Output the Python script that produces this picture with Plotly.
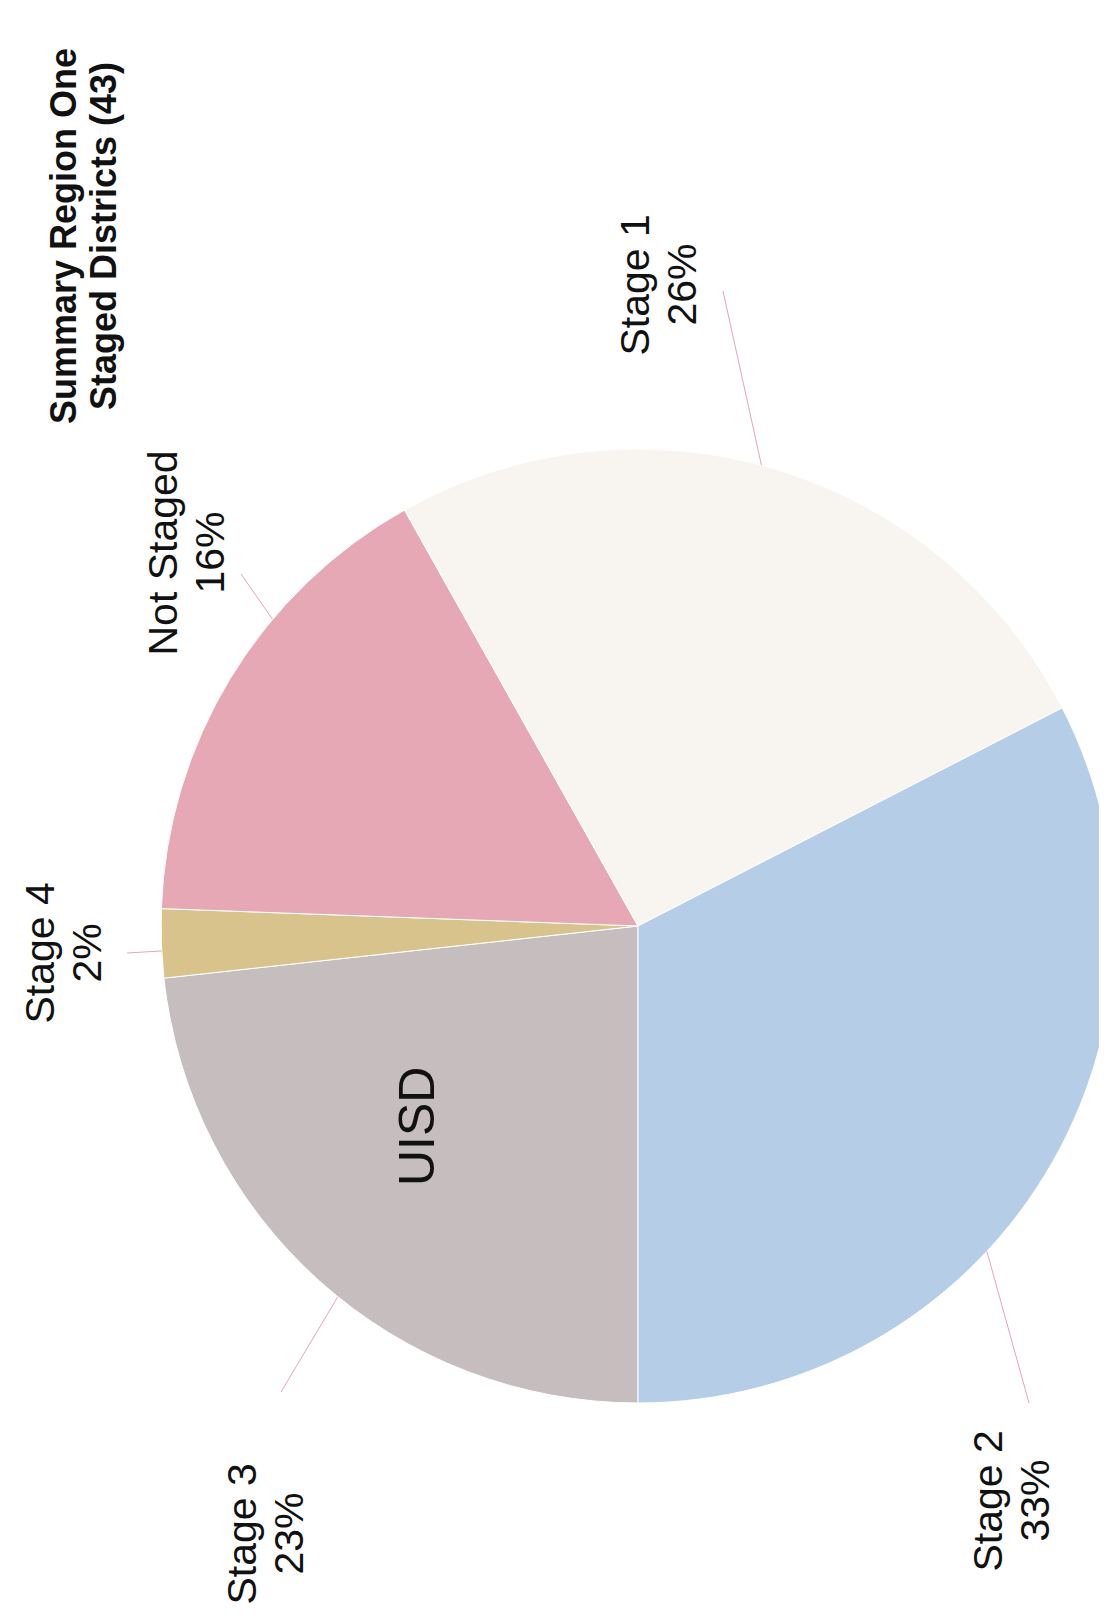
import math
import plotly.graph_objects as go

# ---- data (number of districts per stage, 43 total) ----
labels = ["Stage 3", "Stage 4", "Not Staged", "Stage 1", "Stage 2"]
counts = [10, 1, 7, 11, 14]
colors = ["#C6BDBF", "#D8C38D", "#E6A8B5", "#F8F5F0", "#B5CDE7"]
title_lines = ["Summary Region One", "Staged Districts (43)"]
inner_label = "UISD"

# ---- layout constants (pixels) ----
W, H = 1107, 1621
CX, CY, R = 630, 918, 477
FONT = "Liberation Sans, Arial, sans-serif"
LEAD = "#E9A3B3"
LINE_GAP = 47

# label block centre (x, y), leader angle (clockwise from 12 o'clock), leader outer end
label_pos = {
    "Stage 1": (650, 277, 15.0, (715, 283)),
    "Not Staged": (178, 545, 310.0, (233, 566)),
    "Stage 4": (55, 945, 267.0, (119, 945)),
    "Stage 3": (257, 1526, 219.0, (273, 1384)),
    "Stage 2": (1003, 1493, 133.0, (1021, 1395)),
}
uisd_pos = (409, 1119)
title_pos = (76, 228)
TITLE_GAP = 40


def px(x):
    return min(max(x / W, 0.0), 1.0)


def py(y):
    return min(max(1 - y / H, 0.0), 1.0)


def vtext(x, y, text, size, bold=False):
    return dict(
        x=px(x), y=py(y), xref="paper", yref="paper",
        text=f"<b>{text}</b>" if bold else text,
        showarrow=False, textangle=-90,
        xanchor="center", yanchor="middle",
        font=dict(family=FONT, size=size, color="#111111"),
    )


total = sum(counts)

fig = go.Figure(
    go.Pie(
        labels=labels,
        values=counts,
        sort=False,
        direction="clockwise",
        rotation=180,
        marker=dict(colors=colors, line=dict(color="white", width=1)),
        textinfo="none",
        hoverinfo="label+percent",
        showlegend=False,
        domain=dict(x=[px(CX - R), px(CX + R)], y=[py(CY + R), py(CY - R)]),
    )
)

annotations = []
shapes = []
for lab, v in zip(labels, counts):
    lx, ly, ang, (ox, oy) = label_pos[lab]
    pct = round(v / total * 100)
    annotations.append(vtext(lx - LINE_GAP / 2, ly, lab, 41))
    annotations.append(vtext(lx + LINE_GAP / 2, ly, f"{pct}%", 41))
    a = math.radians(ang)
    ix = CX + R * math.sin(a)
    iy = CY - R * math.cos(a)
    shapes.append(dict(
        type="line", xref="paper", yref="paper",
        x0=px(ix), y0=py(iy), x1=px(ox), y1=py(oy),
        line=dict(color=LEAD, width=1),
    ))

annotations.append(vtext(uisd_pos[0], uisd_pos[1], inner_label, 50))
annotations.append(vtext(title_pos[0] - TITLE_GAP / 2, title_pos[1], title_lines[0], 36, bold=True))
annotations.append(vtext(title_pos[0] + TITLE_GAP / 2, title_pos[1], title_lines[1], 36, bold=True))

fig.update_layout(
    width=W, height=H,
    margin=dict(l=0, r=0, t=0, b=0),
    paper_bgcolor="white", plot_bgcolor="white",
    annotations=annotations, shapes=shapes,
)

fig.write_html("out.html")
